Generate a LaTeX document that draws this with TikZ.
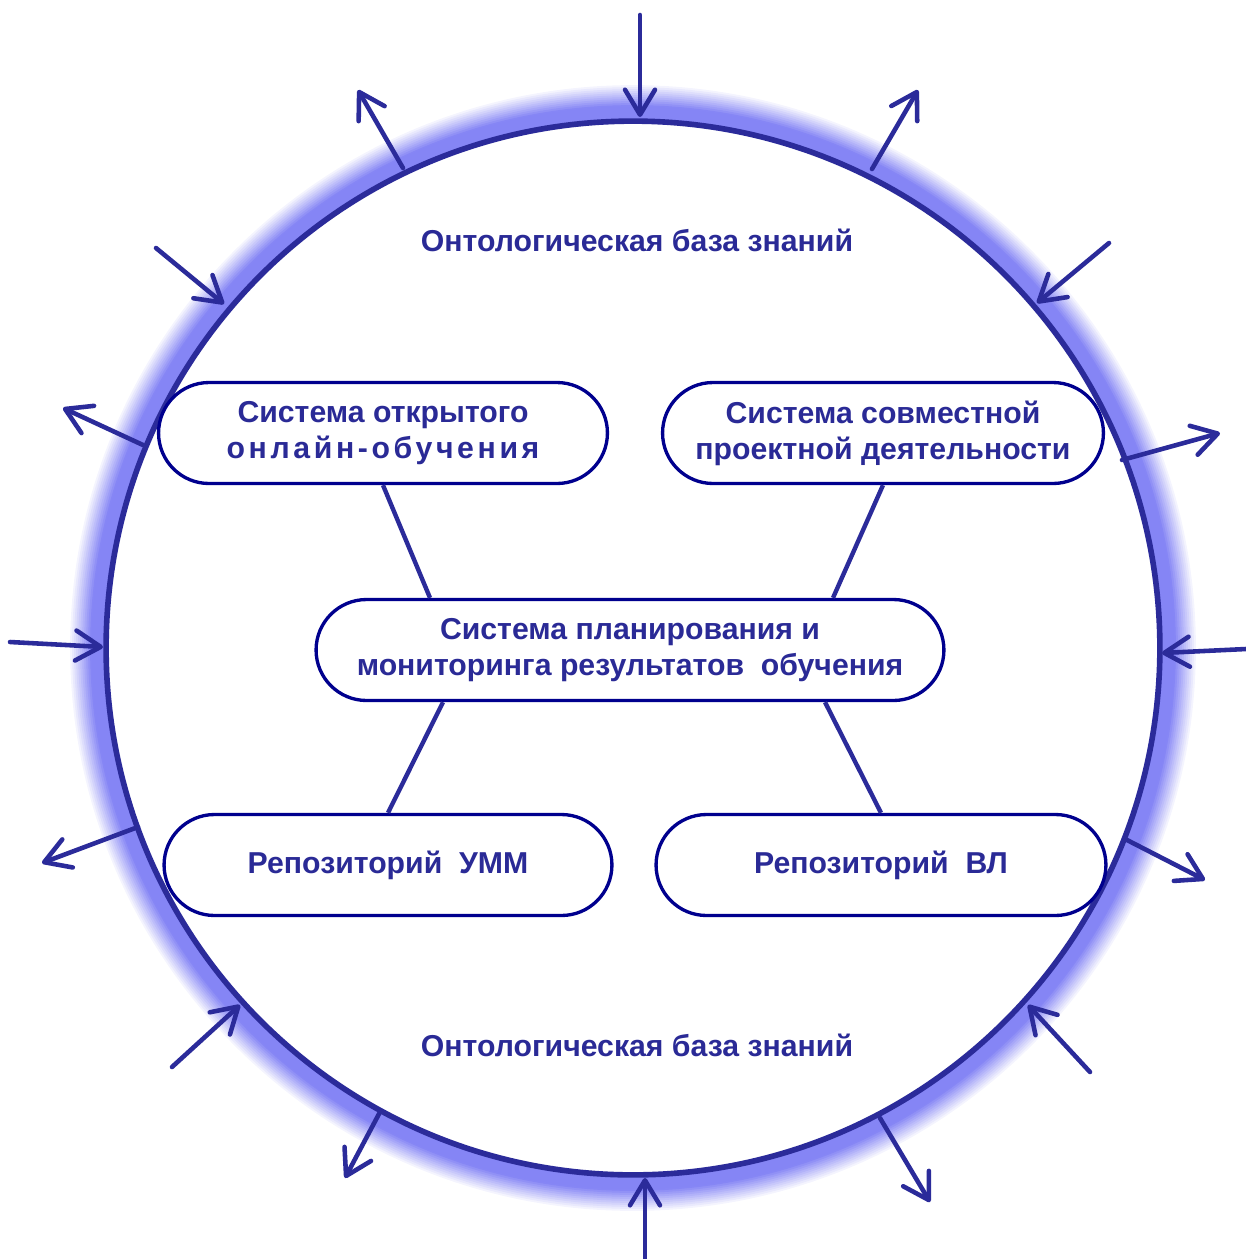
\documentclass[tikz,border=0pt]{standalone}
\usepackage{fontspec}
\setmainfont{Liberation Sans}
\usetikzlibrary{shapes.misc,arrows.meta,calc}
\definecolor{ringblue}{HTML}{2B2B9A}
\definecolor{boxblue}{HTML}{00008E}
\definecolor{labelblue}{HTML}{2A2A96}
\definecolor{glowblue}{HTML}{8585F5}
\tikzset{
  part/.style={draw=boxblue, line width=1.9pt, rounded rectangle, fill=white,
    minimum height=2.02cm, align=center, text=labelblue,
    font=\fontsize{17.2}{20.5}\selectfont\bfseries, inner sep=2pt},
  flow/.style={draw=ringblue, line width=2.6pt, line cap=round,
    -{Straight Barb[length=0.5cm,width=0.6cm,round]}},
  link/.style={draw=ringblue, line width=2.5pt},
  base/.style={text=labelblue, font=\fontsize{17.2}{20}\selectfont\bfseries}
}

\begin{document}
\begin{tikzpicture}[x=0.02cm,y=-0.02cm]
      \useasboundingbox (0,0) rectangle (1246,1259);
      \coordinate (c) at (633,648);
      % glow round the ring
      \foreach \k in {18,...,1} {
        \pgfmathtruncatemacro\p{min(100,(19-\k)*9)}
        \fill[glowblue!\p!white] (c) circle[radius={10.54cm+\k*0.04cm}];
      }
      \fill[white] (c) circle[radius=10.54cm];
      \draw[ringblue, line width=3.2pt] (c) circle[radius=10.54cm];
      % arrows in and out
      \foreach \xa/\ya/\xb/\yb [count=\i] in {
          403/168/358/90, 872/169/918/90, 143/445/63/408, 1122/460/1220/433,
          138/827/42/863, 1127/840/1205/880, 380/1112/345/1178, 880/1118/930/1202,
          640/15/640/117, 156/248/224/304, 1109/243/1037/303, 10/642/103/647,
          1246/649/1162/653, 172/1067/240/1005, 1090/1072/1028/1005, 645/1259/645/1178} {
        \coordinate (s\i) at (\xa,\ya);
        \coordinate (e\i) at (\xb,\yb);
        \draw[flow] (s\i) -- (e\i);
      }
      \node[base] (top) at (637,240) {Онтологическая база знаний};
      \node[base] (bottom) at (637,1045) {Онтологическая база знаний};
      \node[part, minimum width=9.12cm] (open) at (383,433)
        {Система открытого\\{\addfontfeature{LetterSpace=12}онлайн-обучения}};
      \node[part, minimum width=8.96cm] (joint) at (883,433)
        {Система совместной\\проектной деятельности};
      \node[part, minimum width=12.7cm] (plan) at (630,650)
        {Система планирования и\\мониторинга результатов\ \ обучения};
      \node[part, minimum width=9.1cm] (umm) at (388,865) {Репозиторий\ \ УММ};
      \node[part, minimum width=9.14cm] (vl) at (881,865) {Репозиторий\ \ ВЛ};
      \begin{scope}[link]
        \draw (open.south) to ($(plan.north)+(-200,0)$);
        \draw (joint.south) to ($(plan.north)+(203,0)$);
        \draw ($(plan.south)+(-187,0)$) to (umm.north);
        \draw ($(plan.south)+(195,0)$) to (vl.north);
      \end{scope}
    \end{tikzpicture}
\end{document}
